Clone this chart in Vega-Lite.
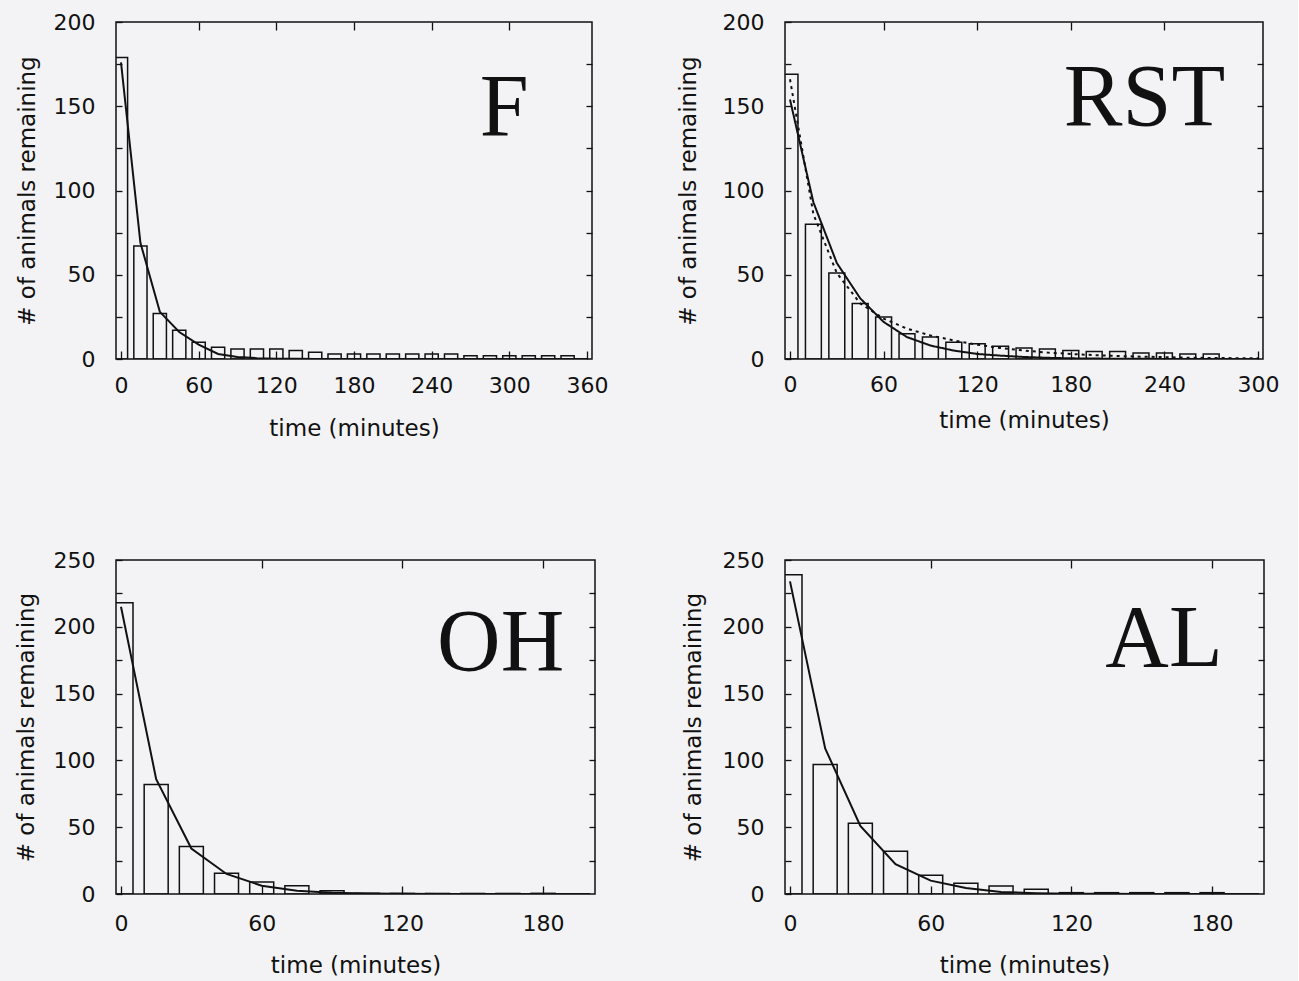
{
  "$schema": "https://vega.github.io/schema/vega-lite/v6.json",
  "background": "#f3f3f5",
  "padding": {"left": 14, "top": 10, "right": 18, "bottom": 5},
  "config": {
    "view": {"stroke": "#111", "strokeWidth": 1.5},
    "axis": {"domain": false, "grid": false, "tickColor": "#111", "tickWidth": 1.3, "labelFont": "DejaVu Sans", "labelFontSize": 22, "labelColor": "#111", "titleFont": "DejaVu Sans", "titleFontSize": 23, "titleFontWeight": "normal", "titleColor": "#111"}
  },
  "datasets": {
    "F_bars": [
      {"t": 0, "n": 179}, {"t": 15, "n": 67}, {"t": 30, "n": 27}, {"t": 45, "n": 17}, {"t": 60, "n": 10}, {"t": 75, "n": 7},
      {"t": 90, "n": 6}, {"t": 105, "n": 6}, {"t": 120, "n": 6}, {"t": 135, "n": 5}, {"t": 150, "n": 4}, {"t": 165, "n": 3},
      {"t": 180, "n": 3}, {"t": 195, "n": 3}, {"t": 210, "n": 3}, {"t": 225, "n": 3}, {"t": 240, "n": 3}, {"t": 255, "n": 3},
      {"t": 270, "n": 2}, {"t": 285, "n": 2}, {"t": 300, "n": 2}, {"t": 315, "n": 2}, {"t": 330, "n": 2}, {"t": 345, "n": 2}
    ],
    "F_fit": [
      {"t": 0, "fit": 176}, {"t": 15, "fit": 69}, {"t": 30, "fit": 28}, {"t": 45, "fit": 16}, {"t": 60, "fit": 8.5}, {"t": 75, "fit": 3},
      {"t": 90, "fit": 1.2}, {"t": 105, "fit": 0.5}, {"t": 120, "fit": 0.2}, {"t": 135, "fit": 0.1}, {"t": 150, "fit": 0.05}, {"t": 165, "fit": 0},
      {"t": 180, "fit": 0}, {"t": 240, "fit": 0}, {"t": 300, "fit": 0}, {"t": 360, "fit": 0}
    ],
    "RST_bars": [
      {"t": 0, "n": 169}, {"t": 15, "n": 80}, {"t": 30, "n": 51}, {"t": 45, "n": 33}, {"t": 60, "n": 25}, {"t": 75, "n": 15},
      {"t": 90, "n": 13}, {"t": 105, "n": 10}, {"t": 120, "n": 9}, {"t": 135, "n": 7.5}, {"t": 150, "n": 6.5}, {"t": 165, "n": 6},
      {"t": 180, "n": 5}, {"t": 195, "n": 4.5}, {"t": 210, "n": 4.5}, {"t": 225, "n": 3.5}, {"t": 240, "n": 3.5}, {"t": 255, "n": 3},
      {"t": 270, "n": 3}
    ],
    "RST_fit": [
      {"t": 0, "fit": 154, "kind": "solid"}, {"t": 15, "fit": 93, "kind": "solid"}, {"t": 30, "fit": 57, "kind": "solid"},
      {"t": 45, "fit": 36, "kind": "solid"}, {"t": 60, "fit": 22, "kind": "solid"}, {"t": 75, "fit": 13, "kind": "solid"},
      {"t": 90, "fit": 8, "kind": "solid"}, {"t": 105, "fit": 5, "kind": "solid"}, {"t": 120, "fit": 3, "kind": "solid"},
      {"t": 135, "fit": 2, "kind": "solid"}, {"t": 150, "fit": 1.2, "kind": "solid"}, {"t": 165, "fit": 0.7, "kind": "solid"},
      {"t": 180, "fit": 0.4, "kind": "solid"}, {"t": 195, "fit": 0.25, "kind": "solid"}, {"t": 210, "fit": 0.15, "kind": "solid"},
      {"t": 225, "fit": 0.1, "kind": "solid"}, {"t": 240, "fit": 0.05, "kind": "solid"}, {"t": 270, "fit": 0.02, "kind": "solid"},
      {"t": 300, "fit": 0, "kind": "solid"},
      {"t": 0, "fit": 166, "kind": "dotted"}, {"t": 15, "fit": 86, "kind": "dotted"}, {"t": 30, "fit": 51, "kind": "dotted"},
      {"t": 45, "fit": 33, "kind": "dotted"}, {"t": 60, "fit": 24, "kind": "dotted"}, {"t": 75, "fit": 18, "kind": "dotted"},
      {"t": 90, "fit": 14, "kind": "dotted"}, {"t": 105, "fit": 11, "kind": "dotted"}, {"t": 120, "fit": 8.5, "kind": "dotted"},
      {"t": 135, "fit": 6.5, "kind": "dotted"}, {"t": 150, "fit": 5, "kind": "dotted"}, {"t": 165, "fit": 3.8, "kind": "dotted"},
      {"t": 180, "fit": 3, "kind": "dotted"}, {"t": 195, "fit": 2.3, "kind": "dotted"}, {"t": 210, "fit": 1.8, "kind": "dotted"},
      {"t": 225, "fit": 1.4, "kind": "dotted"}, {"t": 240, "fit": 1.1, "kind": "dotted"}, {"t": 255, "fit": 0.8, "kind": "dotted"},
      {"t": 270, "fit": 0.6, "kind": "dotted"}, {"t": 285, "fit": 0.5, "kind": "dotted"}, {"t": 300, "fit": 0.4, "kind": "dotted"}
    ],
    "OH_bars": [
      {"t": 0, "n": 218}, {"t": 15, "n": 82}, {"t": 30, "n": 35.5}, {"t": 45, "n": 15.5}, {"t": 60, "n": 9}, {"t": 75, "n": 6.2},
      {"t": 90, "n": 2.5}, {"t": 105, "n": 0.5}, {"t": 120, "n": 0.4}, {"t": 135, "n": 0.4}, {"t": 150, "n": 0.4}, {"t": 165, "n": 0.4},
      {"t": 180, "n": 0.5}
    ],
    "OH_fit": [
      {"t": 0, "fit": 215}, {"t": 15, "fit": 86}, {"t": 30, "fit": 34}, {"t": 45, "fit": 15}, {"t": 60, "fit": 6.2}, {"t": 75, "fit": 2.5},
      {"t": 90, "fit": 1}, {"t": 105, "fit": 0.4}, {"t": 120, "fit": 0.15}, {"t": 135, "fit": 0.06}, {"t": 150, "fit": 0.02}, {"t": 165, "fit": 0},
      {"t": 180, "fit": 0}, {"t": 200, "fit": 0}
    ],
    "AL_bars": [
      {"t": 0, "n": 239}, {"t": 15, "n": 97}, {"t": 30, "n": 53}, {"t": 45, "n": 32}, {"t": 60, "n": 14}, {"t": 75, "n": 8},
      {"t": 90, "n": 6}, {"t": 105, "n": 3.5}, {"t": 120, "n": 1}, {"t": 135, "n": 1}, {"t": 150, "n": 1}, {"t": 165, "n": 1},
      {"t": 180, "n": 1}
    ],
    "AL_fit": [
      {"t": 0, "fit": 234}, {"t": 15, "fit": 109}, {"t": 30, "fit": 51}, {"t": 45, "fit": 22.4}, {"t": 60, "fit": 10}, {"t": 75, "fit": 4.5},
      {"t": 90, "fit": 1.5}, {"t": 105, "fit": 0.6}, {"t": 120, "fit": 0.25}, {"t": 135, "fit": 0.1}, {"t": 150, "fit": 0.04}, {"t": 165, "fit": 0},
      {"t": 180, "fit": 0}, {"t": 200, "fit": 0}
    ]
  },
  "columns": 2,
  "bounds": "flush",
  "spacing": {"row": 201, "column": 190},
  "concat": [
    {
      "width": 476, "height": 337,
      "resolve": {"axis": {"x": "independent", "y": "independent"}},
      "layer": [
        {
          "data": {"name": "F_bars"},
          "mark": {"type": "bar", "width": 13.2, "fillOpacity": 0, "stroke": "#111", "strokeWidth": 1.5, "clip": true},
          "encoding": {
            "x": {"field": "t", "type": "quantitative", "scale": {"domain": [0, 360], "nice": false},
                  "axis": {"orient": "bottom", "values": [0, 60, 120, 180, 240, 300, 360], "tickSize": -8, "labelPadding": 24.5, "title": "time (minutes)", "titlePadding": 20.5}},
            "y": {"field": "n", "type": "quantitative", "scale": {"domain": [0, 200], "nice": false},
                  "axis": {"orient": "left", "values": [0, 25, 50, 75, 100, 125, 150, 175, 200], "labelExpr": "datum.value % 50 === 0 ? datum.label : ''", "tickSize": -6, "labelPadding": 27, "title": "# of animals remaining", "titlePadding": 14}}
          }
        },
        {
          "data": {"name": "F_fit"},
          "mark": {"type": "line", "color": "#111", "strokeWidth": 2, "clip": true},
          "encoding": {
            "x": {"field": "t", "type": "quantitative", "axis": {"orient": "top", "values": [60, 120, 180, 240, 300], "labels": false, "title": null, "tickSize": -8}},
            "y": {"field": "fit", "type": "quantitative", "axis": {"orient": "right", "values": [25, 50, 75, 100, 125, 150, 175], "labels": false, "title": null, "tickSize": -6}}
          }
        },
        {
          "data": {"values": [{"label": "F"}]},
          "mark": {"type": "text", "font": "Liberation Serif", "fontSize": 88, "align": "right", "baseline": "alphabetic", "color": "#111"},
          "encoding": {
            "x": {"datum": 315, "type": "quantitative", "axis": null},
            "y": {"datum": 133, "type": "quantitative", "axis": null},
            "text": {"field": "label"}
          }
        }
      ]
    },
    {
      "width": 478, "height": 337,
      "resolve": {"axis": {"x": "independent", "y": "independent"}},
      "layer": [
        {
          "data": {"name": "RST_bars"},
          "mark": {"type": "bar", "width": 15.9, "fillOpacity": 0, "stroke": "#111", "strokeWidth": 1.5, "clip": true},
          "encoding": {
            "x": {"field": "t", "type": "quantitative", "scale": {"domain": [0, 300], "nice": false},
                  "axis": {"orient": "bottom", "values": [0, 60, 120, 180, 240, 300], "tickSize": -8, "labelPadding": 23.5, "title": "time (minutes)", "titlePadding": 14}},
            "y": {"field": "n", "type": "quantitative", "scale": {"domain": [0, 200], "nice": false},
                  "axis": {"orient": "left", "values": [0, 25, 50, 75, 100, 125, 150, 175, 200], "labelExpr": "datum.value % 50 === 0 ? datum.label : ''", "tickSize": -6, "labelPadding": 27, "title": "# of animals remaining", "titlePadding": 22}}
          }
        },
        {
          "data": {"name": "RST_fit"},
          "mark": {"type": "line", "color": "#111", "strokeWidth": 2, "clip": true},
          "encoding": {
            "x": {"field": "t", "type": "quantitative", "axis": {"orient": "top", "values": [60, 120, 180, 240], "labels": false, "title": null, "tickSize": -8}},
            "y": {"field": "fit", "type": "quantitative", "axis": {"orient": "right", "values": [25, 50, 75, 100, 125, 150, 175], "labels": false, "title": null, "tickSize": -6}},
            "strokeDash": {"field": "kind", "type": "nominal", "scale": {"domain": ["solid", "dotted"], "range": [[1, 0], [3, 4]]}, "legend": null}
          }
        },
        {
          "data": {"values": [{"label": "RST"}]},
          "mark": {"type": "text", "font": "Liberation Serif", "fontSize": 88, "align": "right", "baseline": "alphabetic", "color": "#111"},
          "encoding": {
            "x": {"datum": 279, "type": "quantitative", "axis": null},
            "y": {"datum": 139, "type": "quantitative", "axis": null},
            "text": {"field": "label"}
          }
        }
      ]
    },
    {
      "width": 479, "height": 334,
      "resolve": {"axis": {"x": "independent", "y": "independent"}},
      "layer": [
        {
          "data": {"name": "OH_bars"},
          "mark": {"type": "bar", "width": 24, "fillOpacity": 0, "stroke": "#111", "strokeWidth": 1.5, "clip": true},
          "encoding": {
            "x": {"field": "t", "type": "quantitative", "scale": {"domain": [0, 200], "nice": false},
                  "axis": {"orient": "bottom", "values": [0, 60, 120, 180], "tickSize": -8, "labelPadding": 27.5, "title": "time (minutes)", "titlePadding": 20}},
            "y": {"field": "n", "type": "quantitative", "scale": {"domain": [0, 250], "nice": false},
                  "axis": {"orient": "left", "values": [0, 25, 50, 75, 100, 125, 150, 175, 200, 225, 250], "labelExpr": "datum.value % 50 === 0 ? datum.label : ''", "tickSize": -6, "labelPadding": 27, "title": "# of animals remaining", "titlePadding": 15}}
          }
        },
        {
          "data": {"name": "OH_fit"},
          "mark": {"type": "line", "color": "#111", "strokeWidth": 2, "clip": true},
          "encoding": {
            "x": {"field": "t", "type": "quantitative", "axis": {"orient": "top", "values": [60, 120, 180], "labels": false, "title": null, "tickSize": -8}},
            "y": {"field": "fit", "type": "quantitative", "axis": {"orient": "right", "values": [25, 50, 75, 100, 125, 150, 175, 200, 225], "labels": false, "title": null, "tickSize": -6}}
          }
        },
        {
          "data": {"values": [{"label": "OH"}]},
          "mark": {"type": "text", "font": "Liberation Serif", "fontSize": 88, "align": "right", "baseline": "alphabetic", "color": "#111"},
          "encoding": {
            "x": {"datum": 189, "type": "quantitative", "axis": null},
            "y": {"datum": 168, "type": "quantitative", "axis": null},
            "text": {"field": "label"}
          }
        }
      ]
    },
    {
      "width": 479, "height": 334,
      "resolve": {"axis": {"x": "independent", "y": "independent"}},
      "layer": [
        {
          "data": {"name": "AL_bars"},
          "mark": {"type": "bar", "width": 24, "fillOpacity": 0, "stroke": "#111", "strokeWidth": 1.5, "clip": true},
          "encoding": {
            "x": {"field": "t", "type": "quantitative", "scale": {"domain": [0, 200], "nice": false},
                  "axis": {"orient": "bottom", "values": [0, 60, 120, 180], "tickSize": -8, "labelPadding": 27.5, "title": "time (minutes)", "titlePadding": 20}},
            "y": {"field": "n", "type": "quantitative", "scale": {"domain": [0, 250], "nice": false},
                  "axis": {"orient": "left", "values": [0, 25, 50, 75, 100, 125, 150, 175, 200, 225, 250], "labelExpr": "datum.value % 50 === 0 ? datum.label : ''", "tickSize": -6, "labelPadding": 27, "title": "# of animals remaining", "titlePadding": 17}}
          }
        },
        {
          "data": {"name": "AL_fit"},
          "mark": {"type": "line", "color": "#111", "strokeWidth": 2, "clip": true},
          "encoding": {
            "x": {"field": "t", "type": "quantitative", "axis": {"orient": "top", "values": [60, 120, 180], "labels": false, "title": null, "tickSize": -8}},
            "y": {"field": "fit", "type": "quantitative", "axis": {"orient": "right", "values": [25, 50, 75, 100, 125, 150, 175, 200, 225], "labels": false, "title": null, "tickSize": -6}}
          }
        },
        {
          "data": {"values": [{"label": "AL"}]},
          "mark": {"type": "text", "font": "Liberation Serif", "fontSize": 88, "align": "right", "baseline": "alphabetic", "color": "#111"},
          "encoding": {
            "x": {"datum": 184.5, "type": "quantitative", "axis": null},
            "y": {"datum": 170.7, "type": "quantitative", "axis": null},
            "text": {"field": "label"}
          }
        }
      ]
    }
  ]
}
